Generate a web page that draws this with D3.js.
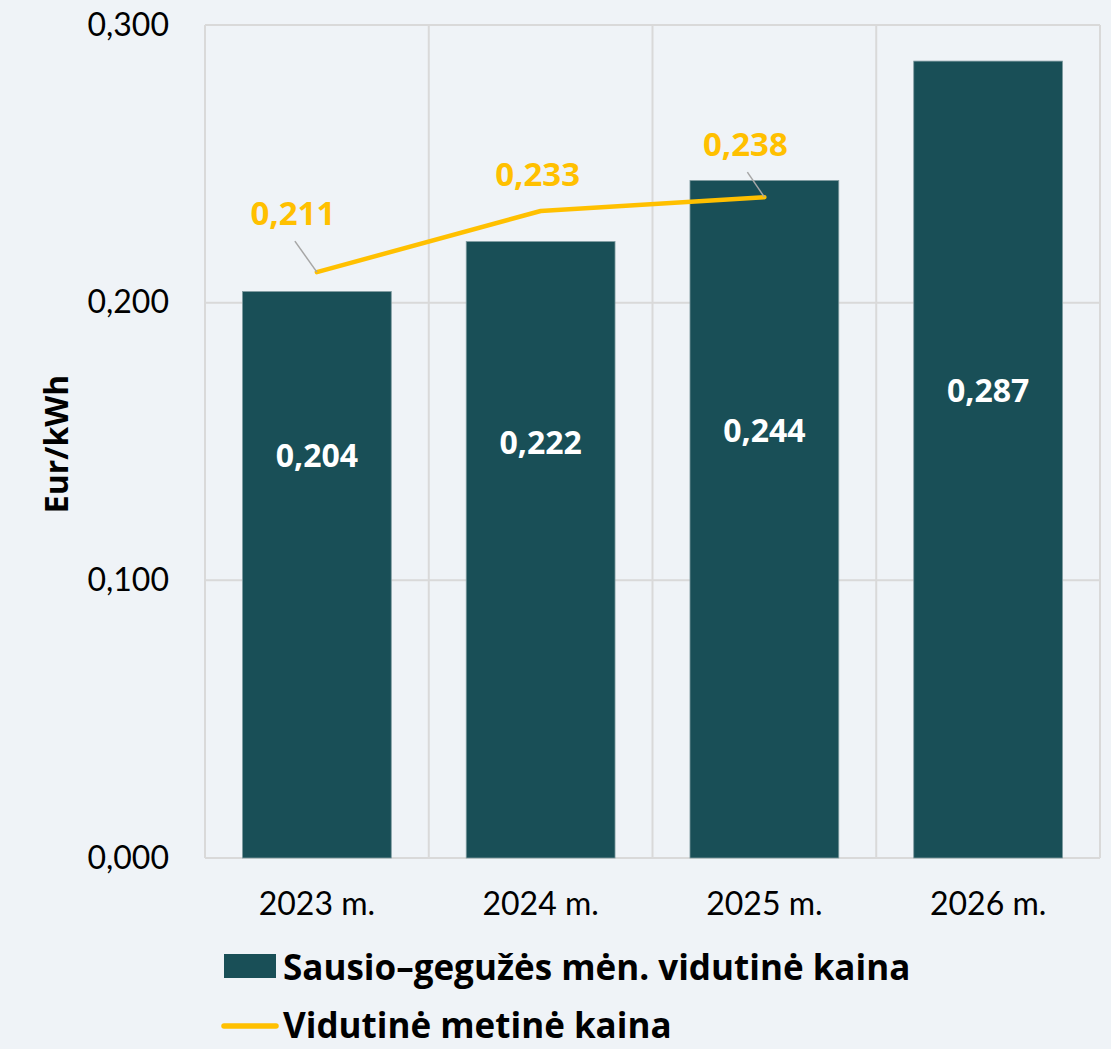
<!DOCTYPE html>
<html>
<head>
<meta charset="utf-8">
<script src="https://cdn.jsdelivr.net/npm/d3@7"></script>
<style>
  html, body { margin: 0; padding: 0; background: #eff3f7; }
  svg { display: block; font-family: Lato, "Open Sans", sans-serif; }
  .bold { font-family: "Open Sans", Lato, sans-serif; font-weight: bold; }
</style>
</head>
<body>
<svg id="chart" width="1111" height="1049"></svg>
<script>
// Categories and series
const years = ["2023 m.", "2024 m.", "2025 m.", "2026 m."];
const janMayPrice = [0.204, 0.222, 0.244, 0.287];
const annualPrice = [0.211, 0.233, 0.238];
const yTicks = [0, 0.1, 0.2, 0.3];
const seriesNames = ["Sausio–gegužės mėn. vidutinė kaina", "Vidutinė metinė kaina"];

// Where the bar value labels sit inside each bar (axis units)
const barLabelAt = [0.145, 0.1495, 0.154, 0.1685];
// Annual label offsets from their points, and whether a leader line is drawn
const annualLabelOffset = [[-24, -59], [-3, -37], [-19, -53]];
const annualLeader = [true, false, true];

const barColor = "#194f57";
const lineColor = "#ffc000";
const gridColor = "#d9d9d9";
const fmt = v => d3.format(".3f")(v).replace(".", ",");

const svg = d3.select("#chart");
const plot = { left: 205, right: 1100, top: 25, bottom: 858 };

const x = d3.scaleBand().domain(years).range([plot.left, plot.right]).padding(0);
const y = d3.scaleLinear().domain([0, 0.3]).range([plot.bottom, plot.top]);
const barW = x.bandwidth() * 0.665;

// Grid: horizontal value lines and vertical category dividers
const grid = svg.append("g");
grid.selectAll("line.h").data(yTicks).join("line")
  .attr("x1", plot.left).attr("x2", plot.right)
  .attr("y1", d => y(d)).attr("y2", d => y(d))
  .attr("stroke", gridColor).attr("stroke-width", 2);
const dividers = years.map(c => x(c)).concat([plot.right]);
grid.selectAll("line.v").data(dividers).join("line")
  .attr("x1", d => d).attr("x2", d => d)
  .attr("y1", plot.top).attr("y2", plot.bottom)
  .attr("stroke", gridColor).attr("stroke-width", 2);

// Y axis tick labels
const yAxis = d3.axisLeft(y).tickValues(yTicks).tickFormat(fmt).tickSize(0).tickPadding(36);
svg.append("g").attr("transform", `translate(${plot.left},0)`).call(yAxis)
  .call(g => g.select(".domain").remove())
  .call(g => g.selectAll("text").attr("font-size", 32).attr("fill", "#000")
    .attr("font-family", "Lato, sans-serif"));

// X axis category labels
const xAxis = d3.axisBottom(x).tickSize(0).tickPadding(34);
svg.append("g").attr("transform", `translate(0,${plot.bottom})`).call(xAxis)
  .call(g => g.select(".domain").remove())
  .call(g => g.selectAll("text").attr("font-size", 32).attr("fill", "#000")
    .attr("font-family", "Lato, sans-serif"));

// Y axis title
svg.append("text").attr("class", "bold")
  .attr("transform", `translate(56,444) rotate(-90)`)
  .attr("text-anchor", "middle")
  .attr("dy", "0.36em")
  .attr("font-size", 32).attr("fill", "#000")
  .text("Eur/kWh");

// Bars
svg.append("g").selectAll("rect").data(janMayPrice).join("rect")
  .attr("x", (d, i) => x(years[i]) + (x.bandwidth() - barW) / 2)
  .attr("width", barW)
  .attr("y", d => y(d))
  .attr("height", d => y(0) - y(d))
  .attr("fill", barColor)
  .attr("stroke", "#7f9ba0").attr("stroke-width", 0.8);

// Bar value labels
svg.append("g").selectAll("text").data(janMayPrice).join("text").attr("class", "bold")
  .attr("x", (d, i) => x(years[i]) + x.bandwidth() / 2)
  .attr("y", (d, i) => y(barLabelAt[i]))
  .attr("dy", "0.36em")
  .attr("text-anchor", "middle")
  .attr("font-size", 32).attr("fill", "#fff")
  .text(d => fmt(d));

// Annual average line
const pts = annualPrice.map((d, i) => [x(years[i]) + x.bandwidth() / 2, y(d)]);
svg.append("path")
  .attr("d", d3.line()(pts))
  .attr("fill", "none").attr("stroke", lineColor)
  .attr("stroke-width", 4.5).attr("stroke-linecap", "round").attr("stroke-linejoin", "round");

// Leader lines and annual value labels
annualPrice.forEach((d, i) => {
  const [px, py] = pts[i];
  const [ox, oy] = annualLabelOffset[i];
  if (annualLeader[i]) {
    svg.append("line")
      .attr("x1", px + ox + 2).attr("y1", py + oy + 28)
      .attr("x2", px).attr("y2", py)
      .attr("stroke", "#a6a6a6").attr("stroke-width", 1.5);
  }
  svg.append("text").attr("class", "bold")
    .attr("x", px + ox).attr("y", py + oy)
    .attr("dy", "0.36em")
    .attr("text-anchor", "middle")
    .attr("font-size", 33).attr("fill", lineColor)
    .text(fmt(d));
});

// Legend
const legend = svg.append("g");
legend.append("rect").attr("x", 224).attr("y", 954).attr("width", 52).attr("height", 24).attr("fill", barColor);
legend.append("line").attr("x1", 224).attr("x2", 276).attr("y1", 1026).attr("y2", 1026)
  .attr("stroke", lineColor).attr("stroke-width", 5.5).attr("stroke-linecap", "round");
legend.selectAll("text").data(seriesNames).join("text").attr("class", "bold")
  .attr("x", 283).attr("y", (d, i) => 967 + i * 58)
  .attr("dy", "0.36em")
  .attr("font-size", 35).attr("fill", "#000")
  .text(d => d);
</script>
</body>
</html>
